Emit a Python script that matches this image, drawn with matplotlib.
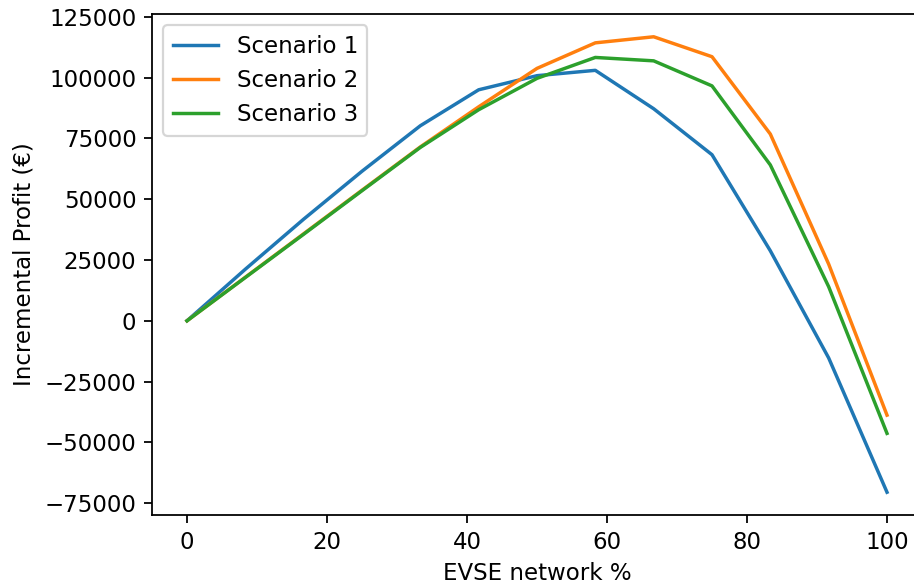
import matplotlib
matplotlib.use("Agg")
import matplotlib.pyplot as plt

evse_pct = [0, 8.33, 16.67, 25, 33.33, 41.67, 50, 58.33, 66.67, 75, 83.33, 91.67, 100]
scenario_1 = [0, 21200, 41800, 61500, 80200, 95000, 100800, 103000, 87200, 68300, 28800, -15300, -70500]
scenario_2 = [0, 17900, 35800, 53700, 71500, 88000, 103800, 114300, 116800, 108600, 76800, 23300, -38800]
scenario_3 = [0, 17800, 35600, 53500, 71300, 86800, 99700, 108300, 106900, 96600, 64100, 14000, -46300]
labels = ["Scenario 1", "Scenario 2", "Scenario 3"]

plt.rcParams["font.size"] = 10.3
plt.rcParams["lines.linewidth"] = 1.55

dpi = 160
fig = plt.figure(figsize=(914 / dpi, 585 / dpi), dpi=dpi)
ax = fig.add_axes([152 / 914, 70 / 585, 770 / 914, 501 / 585])
for series, lab in zip([scenario_1, scenario_2, scenario_3], labels):
    ax.plot(evse_pct, series, label=lab)
ax.set_xlabel("EVSE network %")
ax.set_ylabel("Incremental Profit (€)")
ax.set_xticks([0, 20, 40, 60, 80, 100])
ax.set_yticks([-75000, -50000, -25000, 0, 25000, 50000, 75000, 100000, 125000])
ax.spines["right"].set_visible(False)
ax.legend(loc="upper left")
fig.savefig("out.png", dpi=dpi)
